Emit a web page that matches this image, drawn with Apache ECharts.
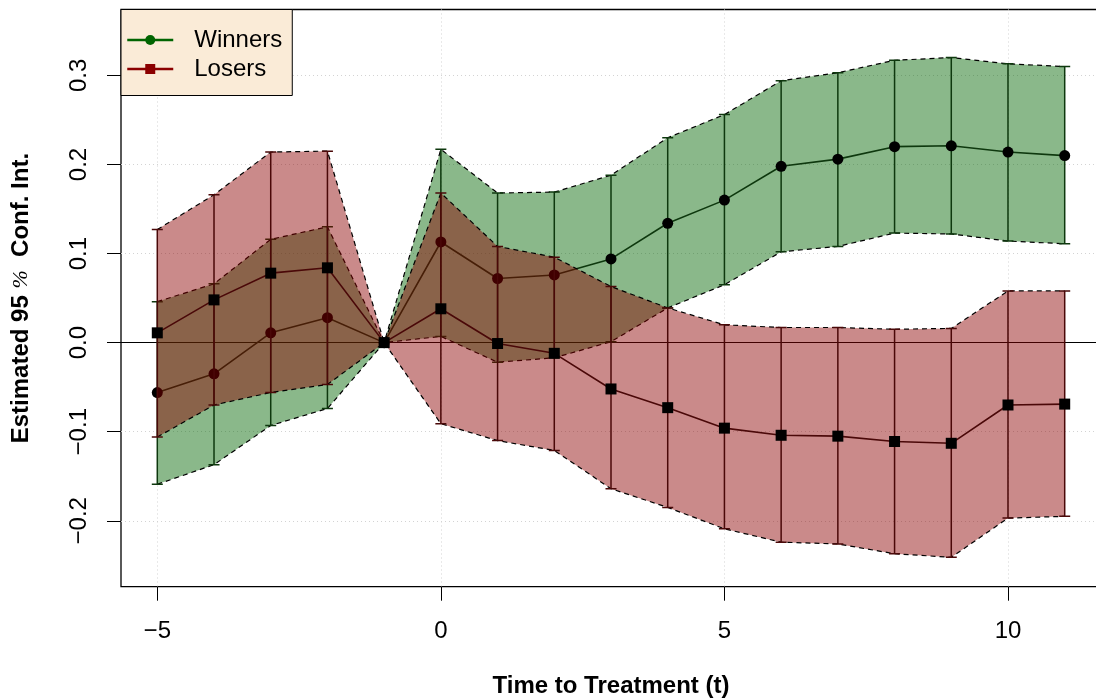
<!DOCTYPE html>
<html>
<head>
<meta charset="utf-8">
<script src="https://cdn.jsdelivr.net/npm/echarts@6/dist/echarts.min.js"></script>
<style>
  html, body { margin: 0; padding: 0; background: #ffffff; }
  #chart { width: 1096px; height: 700px; }
</style>
</head>
<body>
<div id="chart"></div>
<script>
// Event-study estimates with 95% confidence bounds, by period relative to treatment
const periods = [-5, -4, -3, -2, -1, 0, 1, 2, 3, 4, 5, 6, 7, 8, 9, 10, 11];

const winnersEst  = [-0.056, -0.035, 0.011, 0.028, 0, 0.113, 0.072, 0.076, 0.094, 0.134, 0.160, 0.198, 0.206, 0.220, 0.221, 0.214, 0.210];
const winnersLow  = [-0.159, -0.137, -0.093, -0.074, 0, 0.007, -0.022, -0.017, 0.001, 0.039, 0.065, 0.102, 0.108, 0.123, 0.122, 0.114, 0.111];
const winnersHigh = [0.046, 0.066, 0.116, 0.130, 0, 0.217, 0.168, 0.169, 0.188, 0.230, 0.256, 0.294, 0.303, 0.317, 0.320, 0.313, 0.310];

const losersEst  = [0.011, 0.048, 0.078, 0.084, 0, 0.038, -0.001, -0.012, -0.052, -0.073, -0.096, -0.104, -0.105, -0.111, -0.113, -0.070, -0.069];
const losersLow  = [-0.106, -0.070, -0.056, -0.047, 0, -0.091, -0.110, -0.121, -0.164, -0.185, -0.209, -0.224, -0.226, -0.237, -0.241, -0.197, -0.195];
const losersHigh = [0.127, 0.166, 0.214, 0.215, 0, 0.168, 0.108, 0.096, 0.063, 0.039, 0.020, 0.017, 0.017, 0.015, 0.016, 0.058, 0.058];

const xTicks = [-5, 0, 5, 10];
const yTicks = [-0.2, -0.1, 0, 0.1, 0.2, 0.3];
const yLimits = [-0.25, 0.35];

const FONT = '"Liberation Sans", Arial, Helvetica, sans-serif';
const MINUS = '\u2212';

// R-style axis extension: 4% of the range on each side
function padRange(lo, hi) {
  const d = (hi - lo) * 0.04;
  return [lo - d, hi + d];
}
const xRange = padRange(periods[0], periods[periods.length - 1]);
const yRange = padRange(yLimits[0], yLimits[1]);

function signed(text, v) { return v < 0 ? MINUS + text : text; }

// Shaded confidence band with dashed outline
function bandSeries(low, high, fill, z) {
  return {
    type: 'custom',
    silent: true,
    clip: true,
    z: z,
    data: periods.map((t, i) => [t, low[i], high[i]]),
    encode: { x: 0, y: [1, 2] },
    renderItem(params, api) {
      if (params.dataIndex !== 0) return null;
      const top = periods.map((t, i) => api.coord([t, high[i]]));
      const bottom = periods.map((t, i) => api.coord([t, low[i]]));
      const dash = { stroke: '#000000', lineWidth: 1.2, lineDash: [5, 4], fill: 'none' };
      return {
        type: 'group',
        children: [
          { type: 'polygon', z2: 0, shape: { points: top.concat(bottom.slice().reverse()) }, style: { fill: fill, stroke: 'none' } },
          { type: 'polyline', z2: 1, shape: { points: top }, style: dash },
          { type: 'polyline', z2: 1, shape: { points: bottom }, style: dash }
        ]
      };
    }
  };
}

// Vertical interval bars with flat caps
function errorBarSeries(low, high, color, z) {
  return {
    type: 'custom',
    silent: true,
    clip: true,
    z: z,
    data: periods.map((t, i) => [t, low[i], high[i]]),
    encode: { x: 0, y: [1, 2] },
    renderItem(params, api) {
      const t = api.value(0), lo = api.value(1), hi = api.value(2);
      if (lo === hi) return null;
      const a = api.coord([t, lo]);
      const b = api.coord([t, hi]);
      const cap = 5.5;
      const st = { stroke: color, lineWidth: 1.5 };
      return {
        type: 'group',
        children: [
          { type: 'line', z2: 2, shape: { x1: a[0], y1: a[1], x2: b[0], y2: b[1] }, style: st },
          { type: 'line', z2: 2, shape: { x1: a[0] - cap, y1: a[1], x2: a[0] + cap, y2: a[1] }, style: st },
          { type: 'line', z2: 2, shape: { x1: b[0] - cap, y1: b[1], x2: b[0] + cap, y2: b[1] }, style: st }
        ]
      };
    }
  };
}

const chart = echarts.init(document.getElementById('chart'), null, { renderer: 'canvas' });

chart.setOption({
  animation: false,
  backgroundColor: '#ffffff',
  grid: {
    left: 121, top: 9.5, width: 980, height: 577.2,
    show: true, borderColor: '#000000', borderWidth: 1.3, backgroundColor: 'transparent',
    containLabel: false, outerBoundsMode: 'none'
  },
  legend: {
    orient: 'vertical',
    left: 121, top: 9.5,
    padding: [16, 10, 12, 5],
    itemGap: 0,
    itemWidth: 46,
    itemHeight: 12.5,
    backgroundColor: '#FAEBD7',
    borderColor: '#000000',
    borderWidth: 1,
    borderRadius: 0,
    selectedMode: false,
    textStyle: { fontFamily: FONT, fontSize: 24, color: '#000000', lineHeight: 29, padding: [0, 0, 0, 16] },
    data: [
      { name: 'Winners', itemStyle: { color: '#006400', borderWidth: 0 }, lineStyle: { color: '#006400', width: 2.5 } },
      { name: 'Losers', itemStyle: { color: '#8B0000', borderWidth: 0 }, lineStyle: { color: '#8B0000', width: 2.5 } }
    ]
  },
  xAxis: {
    type: 'value',
    min: xRange[0], max: xRange[1],
    axisLine: { show: false, onZero: false },
    axisTick: { show: true, customValues: xTicks, length: 14, lineStyle: { color: '#000000', width: 1 } },
    axisLabel: {
      customValues: xTicks, margin: 33, fontSize: 24, fontFamily: FONT, color: '#000000',
      formatter: v => signed(String(Math.abs(v)), v)
    },
    splitLine: { show: true, lineStyle: { color: '#d3d3d3', width: 1, type: [1, 3] } },
    name: 'Time to Treatment (t)',
    nameLocation: 'middle',
    nameGap: 88,
    nameTextStyle: { fontFamily: FONT, fontSize: 24, fontWeight: 'bold', color: '#000000' }
  },
  yAxis: {
    type: 'value',
    min: yRange[0], max: yRange[1],
    axisLine: { show: false, onZero: false },
    axisTick: { show: true, customValues: yTicks, length: 14, lineStyle: { color: '#000000', width: 1 } },
    axisLabel: {
      customValues: yTicks, rotate: 90, margin: 30, fontSize: 24, fontFamily: FONT, color: '#000000',
      formatter: v => signed(Math.abs(v).toFixed(1), v)
    },
    splitLine: { show: true, lineStyle: { color: '#d3d3d3', width: 1, type: [1, 3] } },
    name: '{b|Estimated 95 }{p|%}{b|  Conf. Int.}',
    nameLocation: 'middle',
    nameRotate: 90,
    nameGap: 88,
    nameTextStyle: {
      rich: {
        b: { fontFamily: FONT, fontSize: 24, fontWeight: 'bold', color: '#000000' },
        p: { fontFamily: '"Liberation Serif", serif', fontSize: 22, fontStyle: 'italic', color: '#000000' }
      }
    }
  },
  series: [
    // first group (Winners) sits underneath the second group (Losers)
    bandSeries(winnersLow, winnersHigh, 'rgba(0,100,0,0.46)', 2),
    errorBarSeries(winnersLow, winnersHigh, '#0e380e', 2),
    {
      name: 'Winners',
      type: 'line',
      silent: true,
      z: 2,
      data: periods.map((t, i) => [t, winnersEst[i]]),
      symbol: 'circle',
      symbolSize: 11,
      showAllSymbol: true,
      itemStyle: { color: '#000000', borderWidth: 0 },
      lineStyle: { color: '#0e380e', width: 1.6 },
      markLine: {
        silent: true,
        z: 1,
        symbol: 'none',
        label: { show: false },
        lineStyle: { color: '#000000', width: 1.2, type: 'solid' },
        data: [{ yAxis: 0 }]
      }
    },
    bandSeries(losersLow, losersHigh, 'rgba(139,0,0,0.46)', 3),
    errorBarSeries(losersLow, losersHigh, '#4a0808', 3),
    {
      name: 'Losers',
      type: 'line',
      silent: true,
      z: 3,
      data: periods.map((t, i) => [t, losersEst[i]]),
      symbol: 'rect',
      symbolSize: 11,
      showAllSymbol: true,
      itemStyle: { color: '#000000', borderWidth: 0 },
      lineStyle: { color: '#4a0808', width: 1.6 }
    }
  ]
});
</script>
</body>
</html>
